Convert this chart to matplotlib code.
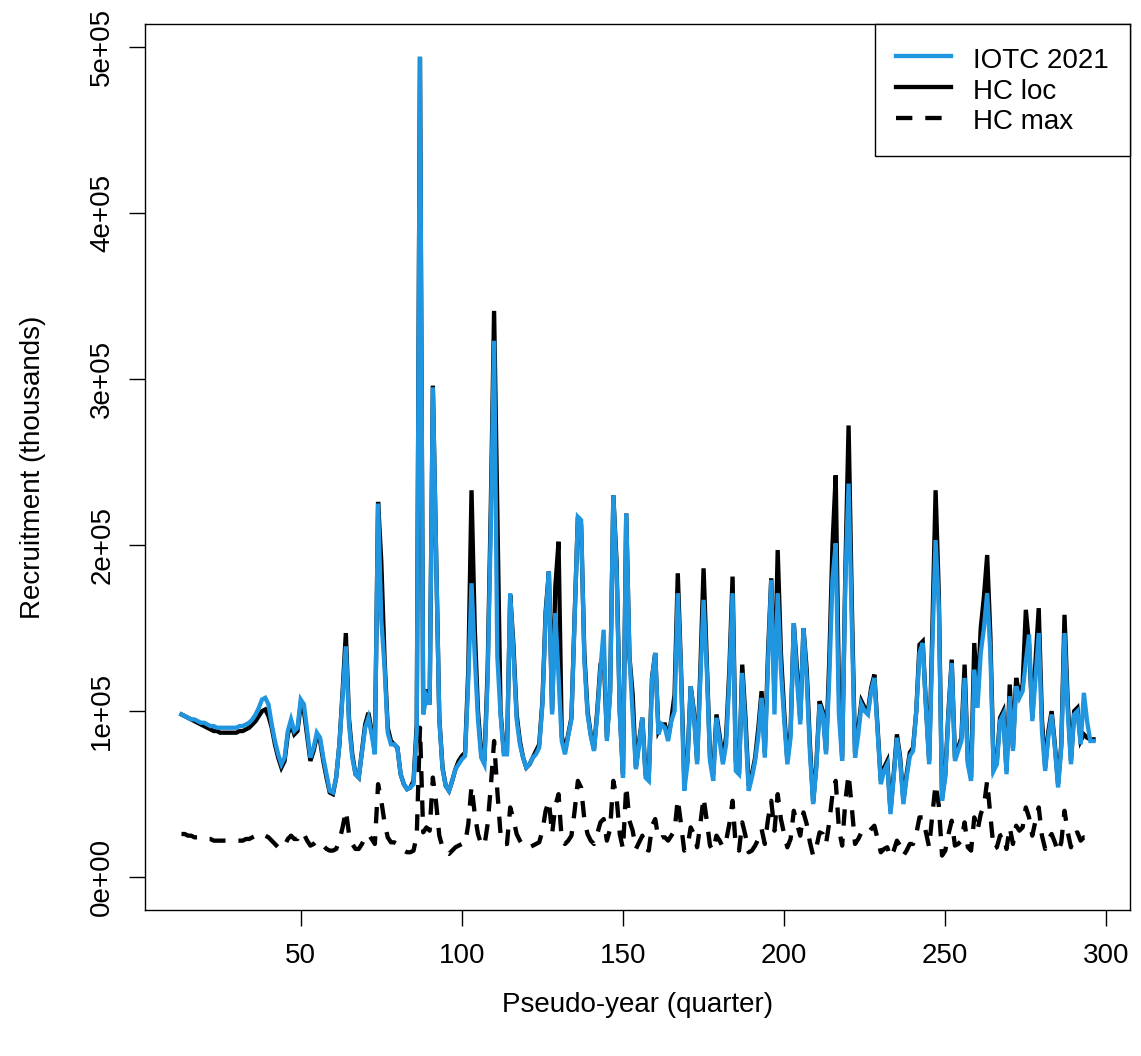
"""
Recruitment by pseudo-year (quarter): IOTC 2021 assessment vs the
two HC variants (loc / max). Values read off the original R figure.
"""

import numpy as np
import matplotlib
matplotlib.use("Agg")
import matplotlib.pyplot as plt
from matplotlib import rcParams

# ── Style ─────────────────────────────────────────────────────────────────────
rcParams.update({
    "font.family":       ["Liberation Sans", "DejaVu Sans"],
    "font.size":         20,
    "axes.linewidth":    1.0,
    "xtick.major.width": 1.0,
    "ytick.major.width": 1.0,
    "xtick.major.size":  11.5,
    "ytick.major.size":  11.5,
    "xtick.direction":   "out",
    "ytick.direction":   "out",
})

C_IOTC = "#2196E0"
C_HC   = "black"

# ── Data (thousands, first quarter = 13) ──────────────────────────────────────
FIRST_QUARTER = 13

iotc_2021 = [
     98,  97,  96,  95,  95,  94,  93,  93,  92,  91,   # 13-22
     91,  90,  90,  90,  90,  90,  90,  90,  91,  91,   # 23-32
     92,  93,  95,  98, 102, 107, 108, 104,  92,  82,   # 33-42
     74,  68,  72,  88,  95,  88,  90, 107, 104,  88,   # 43-52
     72,  78,  87,  84,  72,  62,  52,  51,  60,  80,   # 53-62
    110, 139,  92,  72,  62,  60,  75,  90,  96,  86,   # 63-72
     74, 225, 155, 127,  87,  80,  80,  78,  62,  56,   # 73-82
     53,  54,  56,  88, 494,  98, 109, 104, 295, 195,   # 83-92
     95,  65,  55,  52,  58,  65,  68,  71,  73, 119,   # 93-102
    177, 133,  95,  72,  68, 119, 213, 323, 133,  98,   # 103-112
     74,  74, 171, 135,  95,  80,  72,  66,  68,  72,   # 113-122
     74,  78, 104, 157, 184,  98, 159, 120,  82,  74,   # 123-132
     85,  95, 155, 217, 215, 131,  98,  85,  76,  98,   # 133-142
    125, 149,  82, 110, 230, 185,  98,  60, 219, 133,   # 143-152
     98,  65,  80,  96,  60,  58, 119, 135,  86,  92,   # 153-162
     90,  82,  94, 100, 171, 123,  52,  68, 115,  98,   # 163-172
     68, 119, 167, 125,  70,  58,  96,  82,  68,  80,   # 173-182
    119, 171,  64,  62, 123,  90,  52,  60,  70,  85,   # 183-192
    108,  72, 129, 179,  98, 171, 125,  95,  68,  84,   # 193-202
    153, 119,  92, 150, 119,  75,  44,  66, 104,  98,   # 203-212
     74, 120, 179, 201,  98,  70, 179, 237, 153,  72,   # 213-222
     86, 104, 100,  98, 112, 120,  88,  56,  64,  68,   # 223-232
     38,  60,  84,  70,  44,  60,  73,  76, 100, 135,   # 233-242
    141, 102,  68, 140, 203, 163,  46,  60,  98, 129,   # 243-252
     70,  76,  82, 120,  68,  58, 125, 102, 135, 150,   # 253-262
    171, 135,  64,  68,  94,  98,  62, 109,  76, 115,   # 263-272
    108, 112, 130, 146,  94, 120, 147,  88,  64,  85,   # 273-282
     98,  78,  54,  78, 147, 100,  68,  98, 100,  80,   # 283-292
    111,  94,  82,  82,                                 # 293-296
]

hc_loc = [
     98,  97,  96,  95,  94,  93,  92,  91,  90,  89,   # 13-22
     88,  88,  87,  87,  87,  87,  87,  87,  88,  88,   # 23-32
     89,  90,  92,  94,  97, 100, 101,  97,  90,  80,   # 33-42
     72,  66,  70,  86,  92,  86,  88, 104, 100,  85,   # 43-52
     70,  76,  85,  82,  70,  60,  51,  50,  60,  80,   # 53-62
    112, 147,  95,  74,  62,  60,  76,  92,  99,  88,   # 63-72
     76, 226, 190, 132,  90,  82,  80,  78,  62,  56,   # 73-82
     53,  54,  58,  92, 494, 100, 113, 104, 296, 196,   # 83-92
     96,  66,  55,  52,  58,  65,  70,  73,  75, 125,   # 93-102
    233, 150, 100,  75,  70, 125, 225, 341, 220, 100,   # 103-112
     76,  76, 170, 140,  98,  82,  72,  66,  68,  72,   # 113-122
     76,  80, 106, 160, 184, 100, 175, 202,  85,  76,   # 123-132
     86,  96, 158, 217, 212, 135, 100,  86,  77, 100,   # 133-142
    128, 135,  84, 112, 230, 190, 100,  62, 219, 133,   # 143-152
    110,  66,  82,  96,  62,  60, 120, 135,  88,  92,   # 153-162
     92,  84,  95, 110, 183, 125,  60,  70, 115, 100,   # 163-172
     70, 125, 186, 130,  72,  62,  98,  85,  70,  85,   # 173-182
    125, 181,  70,  62, 128,  96,  55,  62,  72,  90,   # 183-192
    112,  75, 135, 180, 110, 197, 135, 100,  70,  88,   # 193-202
    153, 125,  95, 150, 125,  80,  45,  68, 106, 100,   # 203-212
     76, 130, 200, 242, 112,  72, 185, 272, 165,  75,   # 213-222
     90, 106, 102, 100, 114, 122,  90,  58,  66,  70,   # 223-232
     40,  62,  86,  72,  46,  62,  75,  78, 100, 140,   # 233-242
    142, 104,  70, 150, 233, 170,  48,  62, 100, 131,   # 243-252
     72,  78,  84, 128,  70,  60, 141, 108, 150, 169,   # 253-262
    194, 145,  66,  70,  96, 100,  64, 116,  78, 120,   # 263-272
    110, 116, 161, 140,  96, 130, 162,  95,  66,  88,   # 273-282
    100,  80,  56,  80, 158, 105,  70, 100, 102,  82,   # 283-292
     86,  84,  83,  83,                                 # 293-296
]

hc_max = [
     26,  26,  25,  25,  24,  24,  23,  23,  23,  23,   # 13-22
     22,  22,  22,  22,  22,  22,  22,  22,  22,  22,   # 23-32
     23,  23,  24,  25,  25,  26,  25,  24,  22,  20,   # 33-42
     18,  17,  19,  23,  25,  23,  23,  27,  26,  22,   # 43-52
     19,  20,  22,  21,  19,  17,  16,  16,  17,  22,   # 53-62
     30,  40,  26,  20,  17,  17,  20,  24,  26,  23,   # 63-72
     20,  56,  46,  33,  24,  21,  21,  20,  17,  16,   # 73-82
     15,  15,  16,  25,  90,  27,  30,  28,  60,  45,   # 83-92
     25,  18,  15,  14,  16,  18,  19,  20,  20,  32,   # 93-102
     55,  38,  26,  20,  19,  32,  55,  82,  52,  26,   # 103-112
     20,  20,  42,  35,  26,  22,  19,  18,  18,  19,   # 113-122
     20,  21,  28,  40,  46,  26,  43,  50,  22,  20,   # 123-132
     22,  25,  40,  58,  54,  35,  26,  22,  20,  26,   # 133-142
     33,  35,  22,  29,  58,  48,  26,  17,  55,  34,   # 143-152
     28,  17,  21,  25,  17,  16,  31,  35,  23,  24,   # 153-162
     24,  22,  25,  28,  47,  32,  16,  18,  30,  26,   # 163-172
     18,  32,  48,  34,  19,  16,  25,  22,  18,  22,   # 173-182
     32,  46,  18,  16,  33,  25,  15,  16,  19,  23,   # 183-192
     29,  20,  35,  46,  28,  50,  35,  26,  18,  23,   # 193-202
     40,  32,  25,  39,  32,  21,  13,  18,  27,  26,   # 203-212
     20,  33,  50,  58,  29,  19,  46,  62,  42,  20,   # 213-222
     23,  27,  26,  26,  29,  31,  23,  15,  17,  18,   # 223-232
     12,  16,  22,  19,  13,  16,  20,  20,  26,  36,   # 233-242
     36,  27,  18,  38,  56,  43,  13,  16,  26,  34,   # 243-252
     19,  20,  22,  33,  18,  16,  36,  28,  38,  43,   # 253-262
     58,  37,  17,  18,  25,  26,  17,  30,  20,  31,   # 263-272
     28,  30,  42,  36,  25,  34,  42,  25,  17,  23,   # 273-282
     26,  21,  15,  21,  40,  27,  18,  26,  27,  22,   # 283-292
     24,  24,  24,  24,                                 # 293-296
]

Y_TICKS  = [0, 100000, 200000, 300000, 400000, 500000]
Y_LABELS = ["0e+00", "1e+05", "2e+05", "3e+05", "4e+05", "5e+05"]
X_TICKS  = [50, 100, 150, 200, 250, 300]

# ── Plot ──────────────────────────────────────────────────────────────────────
def quarters(series):
    return np.arange(FIRST_QUARTER, FIRST_QUARTER + len(series))

iotc = np.array(iotc_2021) * 1000.0
loc  = np.array(hc_loc) * 1000.0
hmax = np.array(hc_max) * 1000.0

W, H = 1141, 1056
fig = plt.figure(figsize=(W / 100, H / 100), dpi=100)
ax  = fig.add_axes([145 / W, 1 - 910 / H, 985 / W, 886 / H])

LW = 3.1
ax.plot(quarters(hc_loc), loc, color=C_HC, lw=LW, label="HC loc",
        solid_joinstyle="miter")
ax.plot(quarters(hc_max), hmax, color=C_HC, lw=LW, ls=(0, (3.8, 3.0)),
        label="HC max")
ax.plot(quarters(iotc_2021), iotc, color=C_IOTC, lw=LW, label="IOTC 2021",
        solid_joinstyle="miter")

# R-style 4 % padding
x0, x1 = FIRST_QUARTER, FIRST_QUARTER + len(iotc_2021) - 1
ax.set_xlim(x0 - 0.04 * (x1 - x0), x1 + 0.04 * (x1 - x0))
ytop = max(loc.max(), iotc.max())
ax.set_ylim(-0.04 * ytop, 1.04 * ytop)

ax.set_xticks(X_TICKS)
ax.set_yticks(Y_TICKS)
ax.set_yticklabels(Y_LABELS, rotation=90, va="center")
ax.tick_params(axis="x", pad=12)
ax.tick_params(axis="y", pad=10)

ax.set_xlabel("Pseudo-year (quarter)")
ax.set_ylabel("Recruitment (thousands)")
ax.xaxis.set_label_coords(0.5, -(992 - 910) / 886)
ax.yaxis.set_label_coords(-(145 - 46) / 985, 0.5)

handles, labels = ax.get_legend_handles_labels()
order = [2, 0, 1]
leg = ax.legend([handles[i] for i in order], [labels[i] for i in order],
                loc="upper right", borderaxespad=0, fancybox=False,
                handlelength=2.0, handleheight=1.15, handletextpad=0.8,
                borderpad=0.75, labelspacing=0.05, fontsize=20)
leg.get_frame().set_edgecolor("black")
leg.get_frame().set_linewidth(1.0)
leg.get_frame().set_alpha(1)

fig.savefig("out.png", dpi=100)
print("saved out.png")
